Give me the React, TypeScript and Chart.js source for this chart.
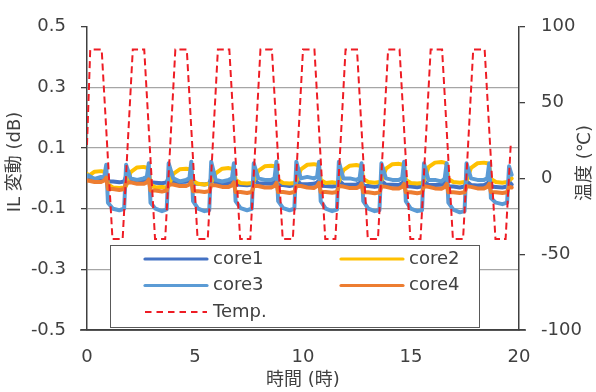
import React, { useEffect, useRef } from 'react';
import { Chart, registerables } from 'chart.js';

Chart.register(...registerables);

// ---- data ----
const timeHours = [
  0,
  0.05, 0.35, 0.65, 0.80, 0.89, 0.97, 1.20, 1.50, 1.72, 1.81,
  2.02, 2.32, 2.62, 2.77, 2.86, 2.94, 3.17, 3.47, 3.69, 3.78,
  3.99, 4.29, 4.59, 4.74, 4.83, 4.91, 5.14, 5.44, 5.66, 5.75,
  5.96, 6.26, 6.56, 6.71, 6.80, 6.88, 7.11, 7.41, 7.63, 7.72,
  7.93, 8.23, 8.53, 8.68, 8.77, 8.85, 9.08, 9.38, 9.60, 9.69,
  9.90, 10.20, 10.50, 10.65, 10.74, 10.82, 11.05, 11.35, 11.57, 11.66,
  11.87, 12.17, 12.47, 12.62, 12.71, 12.79, 13.02, 13.32, 13.54, 13.63,
  13.84, 14.14, 14.44, 14.59, 14.68, 14.76, 14.99, 15.29, 15.51, 15.60,
  15.81, 16.11, 16.41, 16.56, 16.65, 16.73, 16.96, 17.26, 17.48, 17.57,
  17.78, 18.08, 18.38, 18.53, 18.62, 18.70, 18.93, 19.23, 19.45, 19.54,
  19.66,
];

const core1 = [
  -0.003,
  -0.005, -0.005, -0.004, 0.0, 0.007, -0.01, -0.01, -0.013, -0.01, 0.007,
  -0.008, -0.009, -0.008, -0.003, 0.004, -0.013, -0.014, -0.016, -0.013, 0.004,
  -0.012, -0.012, -0.011, -0.007, 0.0, -0.017, -0.018, -0.02, -0.017, 0.0,
  -0.015, -0.016, -0.015, -0.01, -0.003, -0.02, -0.021, -0.023, -0.02, -0.003,
  -0.017, -0.017, -0.018, -0.012, -0.005, -0.022, -0.022, -0.025, -0.022, -0.005,
  -0.019, -0.019, -0.018, -0.014, -0.007, -0.024, -0.025, -0.027, -0.024, -0.007,
  -0.02, -0.021, -0.02, -0.015, -0.008, -0.025, -0.025, -0.028, -0.025, -0.008,
  -0.021, -0.021, -0.022, -0.016, -0.009, -0.026, -0.027, -0.029, -0.026, -0.009,
  -0.022, -0.022, -0.021, -0.017, -0.01, -0.027, -0.027, -0.03, -0.027, -0.01,
  -0.022, -0.023, -0.022, -0.017, -0.01, -0.027, -0.028, -0.03, -0.027, -0.01,
  -0.02,
];

const core2 = [
  0.015,
  0.007, 0.022, 0.024, 0.022, 0.017, -0.02, -0.03, -0.032, -0.03, -0.025,
  0.021, 0.036, 0.038, 0.035, 0.031, -0.02, -0.03, -0.028, -0.03, -0.025,
  0.015, 0.03, 0.032, 0.03, 0.025, -0.008, -0.018, -0.02, -0.018, -0.013,
  0.017, 0.032, 0.034, 0.032, 0.027, -0.005, -0.015, -0.017, -0.015, -0.01,
  0.025, 0.04, 0.042, 0.04, 0.035, -0.005, -0.015, -0.017, -0.015, -0.01,
  0.03, 0.045, 0.047, 0.045, 0.04, -0.005, -0.015, -0.013, -0.015, -0.01,
  0.027, 0.042, 0.044, 0.042, 0.037, -0.002, -0.012, -0.014, -0.012, -0.007,
  0.032, 0.047, 0.048, 0.046, 0.042, -0.005, -0.015, -0.017, -0.015, -0.01,
  0.037, 0.052, 0.054, 0.052, 0.047, -0.002, -0.012, -0.014, -0.012, -0.007,
  0.035, 0.05, 0.052, 0.05, 0.045, -0.002, -0.012, -0.014, -0.012, -0.007,
  0.0,
];

const core3 = [
  0.005,
  0.01, -0.002, 0.005, 0.005, 0.045, -0.08, -0.1, -0.105, -0.1, 0.045,
  0.0, -0.005, 0.0, 0.005, 0.05, -0.08, -0.1, -0.108, -0.102, 0.05,
  0.0, -0.01, -0.005, 0.0, 0.055, -0.075, -0.1, -0.108, -0.105, 0.055,
  -0.005, -0.01, -0.005, 0.0, 0.05, -0.075, -0.098, -0.105, -0.1, 0.05,
  0.0, -0.005, -0.005, 0.0, 0.055, -0.075, -0.098, -0.105, -0.1, 0.055,
  0.0, 0.005, 0.0, 0.005, 0.055, -0.075, -0.1, -0.108, -0.103, 0.055,
  0.0, 0.0, -0.005, 0.0, 0.05, -0.075, -0.1, -0.108, -0.105, 0.05,
  0.0, -0.005, -0.005, 0.0, 0.055, -0.075, -0.1, -0.108, -0.105, 0.05,
  -0.005, -0.005, -0.01, 0.0, 0.05, -0.08, -0.103, -0.112, -0.108, 0.05,
  0.0, -0.005, -0.005, 0.0, 0.05, -0.065, -0.08, -0.085, -0.08, 0.04,
  0.012,
];

const core4 = [
  -0.008,
  -0.007, -0.012, -0.012, -0.007, 0.003, -0.035, -0.035, -0.038, -0.035, -0.015,
  -0.013, -0.018, -0.018, -0.013, -0.003, -0.04, -0.04, -0.043, -0.04, -0.02,
  -0.02, -0.025, -0.025, -0.02, -0.01, -0.042, -0.042, -0.045, -0.042, -0.022,
  -0.023, -0.028, -0.028, -0.023, -0.013, -0.045, -0.045, -0.048, -0.045, -0.025,
  -0.025, -0.03, -0.03, -0.025, -0.015, -0.045, -0.045, -0.048, -0.045, -0.025,
  -0.025, -0.03, -0.032, -0.025, -0.015, -0.045, -0.045, -0.047, -0.045, -0.025,
  -0.027, -0.032, -0.032, -0.027, -0.017, -0.046, -0.046, -0.049, -0.046, -0.026,
  -0.028, -0.033, -0.033, -0.028, -0.018, -0.046, -0.046, -0.049, -0.046, -0.026,
  -0.028, -0.033, -0.034, -0.028, -0.018, -0.046, -0.046, -0.048, -0.046, -0.026,
  -0.028, -0.033, -0.033, -0.028, -0.018, -0.045, -0.046, -0.048, -0.046, -0.027,
  -0.03,
];

const tempTimeHours = [
  0,
  0.15, 0.68, 1.18, 1.65,
  2.12, 2.65, 3.15, 3.62,
  4.09, 4.62, 5.12, 5.59,
  6.06, 6.59, 7.09, 7.56,
  8.03, 8.56, 9.06, 9.53,
  10.00, 10.53, 11.03, 11.50,
  11.97, 12.50, 13.00, 13.47,
  13.94, 14.47, 14.97, 15.44,
  15.91, 16.44, 16.94, 17.41,
  17.88, 18.41, 18.91, 19.38,
  19.62,
];

const tempValues = [
  22,
  85, 85, -40, -40,
  85, 85, -40, -40,
  85, 85, -40, -40,
  85, 85, -40, -40,
  85, 85, -40, -40,
  85, 85, -40, -40,
  85, 85, -40, -40,
  85, 85, -40, -40,
  85, 85, -40, -40,
  85, 85, -40, -40,
  23,
];

const seriesLabels = ['core1', 'core2', 'core3', 'core4', 'Temp.'];
const seriesColors = ['#4472C4', '#FFC000', '#5B9BD5', '#ED7D31', '#EE1C24'];
const xTickValues = [0, 5, 10, 15, 20];
const yLeftTickValues = [-0.5, -0.3, -0.1, 0.1, 0.3, 0.5];
const yRightTickValues = [-100, -50, 0, 50, 100];
const xTitle = '時間 (時)';
const yLeftTitle = 'IL 変動 (dB)';
const yRightTitle = '温度 (℃)';

// ---- style ----
const FONT = "'DejaVu Sans', 'Noto Sans CJK JP', sans-serif";
const TEXT = '#404040';
const AXIS = '#404040';
const GRID = '#A6A6A6';

const overlayPlugin = {
  id: 'overlay',
  afterDraw(chart: any) {
    const { ctx, chartArea } = chart;
    const { left, right, bottom } = chartArea;
    ctx.save();
    // extend bottom axis line under the tick marks
    ctx.strokeStyle = AXIS;
    ctx.lineWidth = 1.5;
    ctx.beginPath();
    ctx.moveTo(left - 7, bottom);
    ctx.lineTo(right + 7, bottom);
    ctx.stroke();

    // axis titles
    ctx.fillStyle = TEXT;
    ctx.font = `18px ${FONT}`;
    ctx.textAlign = 'center';
    ctx.textBaseline = 'middle';
    ctx.fillText(xTitle, (left + right) / 2, 380);
    ctx.save();
    ctx.translate(15, 162);
    ctx.rotate(-Math.PI / 2);
    ctx.fillText(yLeftTitle, 0, 0);
    ctx.restore();
    ctx.save();
    ctx.translate(585, 163);
    ctx.rotate(-Math.PI / 2);
    ctx.fillText(yRightTitle, 0, 0);
    ctx.restore();

    // legend box
    const bx = left + 23;
    const by = 245;
    const bw = 369;
    const bh = 82;
    ctx.fillStyle = '#FFFFFF';
    ctx.fillRect(bx, by, bw, bh);
    ctx.strokeStyle = '#595959';
    ctx.lineWidth = 1;
    ctx.strokeRect(bx + 0.5, by + 0.5, bw, bh);

    chart.data.datasets.forEach((ds: any, i: number) => {
      const col = i < 4 ? i % 2 : 0;
      const row = Math.floor(i / 2);
      const lx = bx + 35 + col * 196;
      const ly = by + 14 + row * 26.5;
      ctx.save();
      ctx.strokeStyle = ds.borderColor;
      ctx.lineWidth = ds.borderDash ? 2 : 3.2;
      ctx.lineCap = ds.borderDash ? 'butt' : 'round';
      if (ds.borderDash) ctx.setLineDash([6.5, 5]);
      ctx.beginPath();
      ctx.moveTo(lx, ly);
      ctx.lineTo(lx + 62, ly);
      ctx.stroke();
      ctx.restore();
      ctx.fillStyle = TEXT;
      ctx.font = `18px ${FONT}`;
      ctx.textAlign = 'left';
      ctx.textBaseline = 'middle';
      ctx.fillText(ds.label, lx + 68, ly);
    });
    ctx.restore();
  },
};

export default function App() {
  const canvasRef = useRef<HTMLCanvasElement | null>(null);

  useEffect(() => {
    const canvas = canvasRef.current;
    if (!canvas) return;

    const coreSeries = [core1, core2, core3, core4];
    const datasets: any[] = coreSeries.map((vals, i) => ({
      label: seriesLabels[i],
      data: timeHours.map((t, j) => ({ x: t, y: vals[j] })),
      borderColor: seriesColors[i],
      backgroundColor: seriesColors[i],
      borderWidth: 4,
      pointRadius: 0,
      tension: 0,
      borderJoinStyle: 'round',
      borderCapStyle: 'round',
      yAxisID: 'y',
      order: 5 - i,
    }));
    datasets.push({
      label: seriesLabels[4],
      data: tempTimeHours.map((t, j) => ({ x: t, y: tempValues[j] })),
      borderColor: seriesColors[4],
      backgroundColor: seriesColors[4],
      borderWidth: 2,
      borderDash: [7, 4],
      pointRadius: 0,
      tension: 0,
      yAxisID: 'y2',
      order: 0,
    });

    const chart = new Chart(canvas, {
      type: 'line',
      data: { datasets },
      options: {
        responsive: false,
        maintainAspectRatio: false,
        devicePixelRatio: 1,
        animation: false,
        layout: { padding: { top: 24, left: 0, right: 0, bottom: 0 } },
        plugins: {
          legend: { display: false },
          tooltip: { enabled: false },
        },
        scales: {
          x: {
            type: 'linear',
            min: 0,
            max: 20,
            afterBuildTicks: (scale: any) => {
              scale.ticks = xTickValues.map((v) => ({ value: v }));
            },
            afterFit: (scale: any) => {
              scale.height = 62;
            },
            ticks: {
              color: TEXT,
              font: { family: FONT, size: 18 },
              padding: 17,
              maxRotation: 0,
            },
            grid: { display: false, drawTicks: false },
            border: { display: true, color: AXIS, width: 1.5 },
          },
          y: {
            type: 'linear',
            position: 'left',
            min: -0.5,
            max: 0.5,
            afterBuildTicks: (scale: any) => {
              scale.ticks = yLeftTickValues.map((v) => ({ value: v }));
            },
            afterFit: (scale: any) => {
              scale.width = 87;
            },
            ticks: {
              color: TEXT,
              font: { family: FONT, size: 18 },
              padding: 15,
              callback: (v: any) => Number(v).toFixed(1),
            },
            grid: {
              color: (c: any) => (c.tick && Math.abs(c.tick.value - 0.5) < 1e-9 ? 'rgba(0,0,0,0)' : GRID),
              lineWidth: 1.3,
              tickColor: AXIS,
              tickLength: 6,
            },
            border: { display: true, color: AXIS, width: 1.5 },
          },
          y2: {
            type: 'linear',
            position: 'right',
            min: -100,
            max: 100,
            afterBuildTicks: (scale: any) => {
              scale.ticks = yRightTickValues.map((v) => ({ value: v }));
            },
            afterFit: (scale: any) => {
              scale.width = 77;
            },
            ticks: {
              color: TEXT,
              font: { family: FONT, size: 18 },
              padding: 16,
            },
            grid: {
              drawOnChartArea: false,
              tickColor: AXIS,
              tickLength: 6,
              lineWidth: 1.3,
            },
            border: { display: true, color: AXIS, width: 1.5 },
          },
        },
      },
      plugins: [overlayPlugin],
    });

    return () => {
      chart.destroy();
    };
  }, []);

  return (
    <div style={{ position: 'fixed', left: 0, top: 0, width: 596, height: 392, background: '#FFFFFF' }}>
      <canvas ref={canvasRef} width={596} height={392} style={{ display: 'block' }} />
    </div>
  );
}
